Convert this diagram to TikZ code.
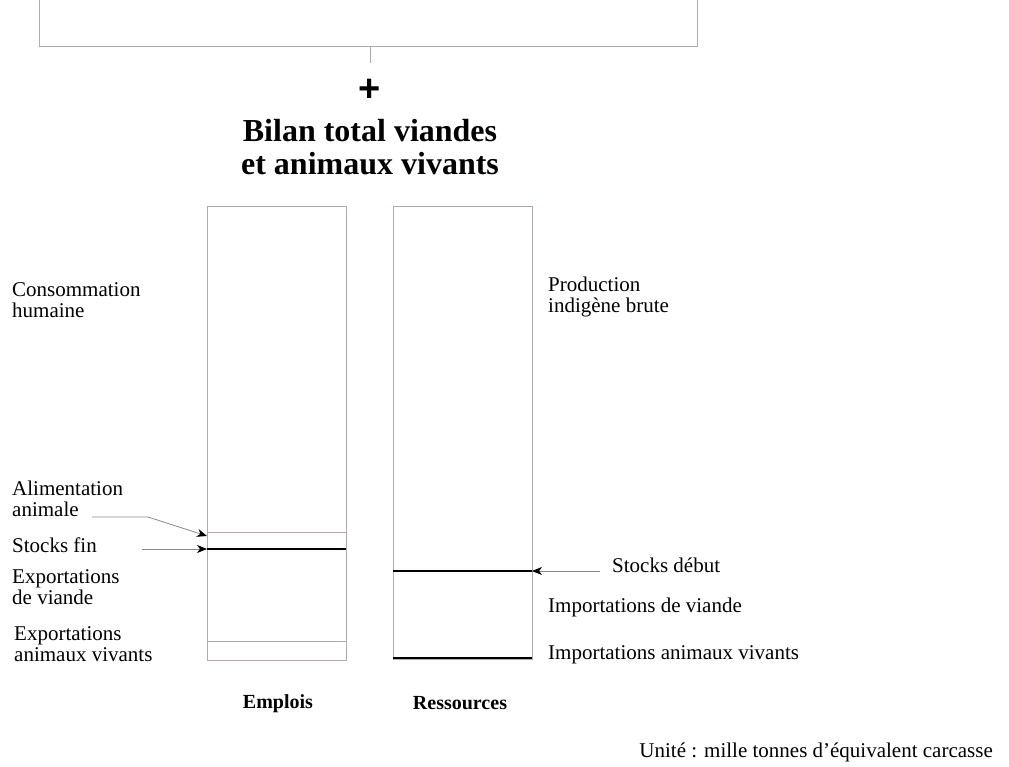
\documentclass[tikz,border=0pt]{standalone}
\usepackage{fontspec}
\setmainfont{Liberation Serif}
\newfontfamily\plusfont{Liberation Sans}
\usetikzlibrary{arrows.meta}
\definecolor{boxgray}{RGB}{178,170,170}
\begin{document}
\begin{tikzpicture}[x=1pt,y=-1pt,
  thinline/.style={draw=boxgray,line width=1pt},
  thickline/.style={draw=black,line width=2pt},
  lbl/.style={anchor=west,inner sep=0pt,font=\fontsize{21}{21}\selectfont,align=left},
  ttl/.style={inner sep=0pt,font=\bfseries\fontsize{32}{33}\selectfont,align=center},
  arr/.style={draw=boxgray!80!black,line width=0.8pt,-{Stealth[length=10pt,width=8pt,color=black,inset=3pt]}}]
\useasboundingbox (0,0) rectangle (1009,766);
% top bracket
\coordinate (bl) at (39,0);
\coordinate (br) at (697,0);
\draw[thinline] (bl) -- (39,46) -- (697,46) -- (br);
\coordinate (tk1) at (370,46);
\coordinate (tk2) at (370,63);
\draw[thinline] (tk1) -- (tk2);
\node[inner sep=0pt,font=\plusfont\bfseries\fontsize{38}{38}\selectfont] (plus) at (370,90) {+};
\node[ttl] (title) at (370,147) {Bilan total viandes\\et animaux vivants};
% boxes
\node[thinline,minimum width=139pt,minimum height=454pt,inner sep=0pt,anchor=north west] (emp) at (207,206) {};
\node[thinline,minimum width=139pt,minimum height=453pt,inner sep=0pt,anchor=north west] (res) at (393,206) {};
\coordinate (e1l) at (207,532); \coordinate (e1r) at (346,532);
\coordinate (e2l) at (207,549); \coordinate (e2r) at (346,549);
\coordinate (e3l) at (207,641); \coordinate (e3r) at (346,641);
\draw[thinline] (e1l) -- (e1r);
\draw[thickline] (e2l) -- (e2r);
\draw[thinline] (e3l) -- (e3r);
\coordinate (r1l) at (393,571); \coordinate (r1r) at (532,571);
\coordinate (r2l) at (393,658); \coordinate (r2r) at (532,658);
\draw[thickline] (r1l) -- (r1r);
\draw[thickline] (r2l) -- (r2r);
% left labels
\node[lbl] (conso) at (12,300) {Consommation\\humaine};
\node[lbl] (alim) at (12,499) {Alimentation\\animale};
\node[lbl] (sfin) at (12,545) {Stocks fin};
\node[lbl] (expv) at (12,587) {Exportations\\de viande};
\node[lbl] (expa) at (14,644) {Exportations\\animaux vivants};
% right labels
\node[lbl] (prod) at (548,297) {Production\\indigène brute};
\node[lbl] (sdeb) at (612,565) {Stocks début};
\node[lbl] (impv) at (548,607) {Importations de viande};
\node[lbl] (impa) at (548,655) {Importations animaux vivants};
\node[inner sep=0pt,font=\bfseries\fontsize{20}{20}\selectfont] (empl) at (278,704) {Emplois};
\node[inner sep=0pt,font=\bfseries\fontsize{20}{20}\selectfont] (ress) at (460,703) {Ressources};
\node[inner sep=0pt,anchor=east,font=\fontsize{21}{21}\selectfont] (unit) at (993,752) {Unité : mille tonnes d’équivalent carcasse};
% arrows
\coordinate (a0) at (92,517);
\coordinate (a1) at (148,517);
\coordinate (a2) at (207,536);
\draw[arr] (a0) -- (a1) -- (a2);
\coordinate (s0) at (142,549);
\draw[arr] (s0) -- (e2l);
\coordinate (d0) at (600,571);
\draw[arr] (d0) -- (r1r);
\end{tikzpicture}
\end{document}
